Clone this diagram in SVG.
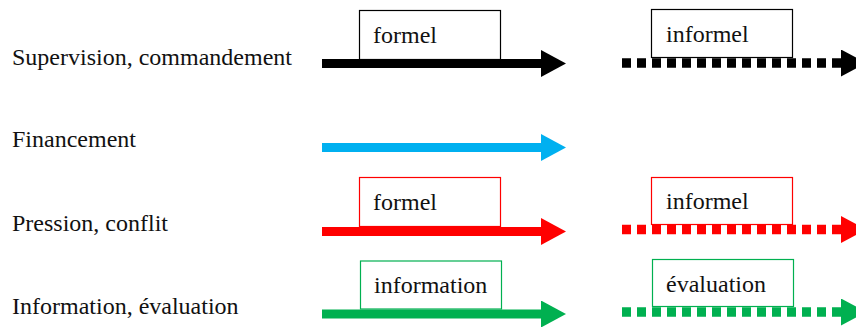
<svg xmlns="http://www.w3.org/2000/svg" width="856" height="327" viewBox="0 0 856 327">
  <defs>
    <style>
      .lbl { font-family: "Liberation Serif", "Times New Roman", serif; font-size: 24px; fill: #111; }
      .box { fill: #fff; stroke-width: 1.2; }
      .line { fill: none; stroke-width: 9; }
      .dots { fill: none; stroke-width: 9.5; stroke-dasharray: 9 6; }
      .k { stroke: #000; }
      .b { stroke: #00B0F0; }
      .r { stroke: #FF0000; }
      .g { stroke: #00B050; }
    </style>
    <marker id="head-k" viewBox="0 0 25 27" refX="0" refY="13.5" markerWidth="25" markerHeight="27" markerUnits="userSpaceOnUse" orient="auto">
      <path d="M0,0 L25,13.5 L0,27 Z" fill="#000"/>
    </marker>
    <marker id="head-b" viewBox="0 0 25 27" refX="0" refY="13.5" markerWidth="25" markerHeight="27" markerUnits="userSpaceOnUse" orient="auto">
      <path d="M0,0 L25,13.5 L0,27 Z" fill="#00B0F0"/>
    </marker>
    <marker id="head-r" viewBox="0 0 25 27" refX="0" refY="13.5" markerWidth="25" markerHeight="27" markerUnits="userSpaceOnUse" orient="auto">
      <path d="M0,0 L25,13.5 L0,27 Z" fill="#FF0000"/>
    </marker>
    <marker id="head-g" viewBox="0 0 25 27" refX="0" refY="13.5" markerWidth="25" markerHeight="27" markerUnits="userSpaceOnUse" orient="auto">
      <path d="M0,0 L25,13.5 L0,27 Z" fill="#00B050"/>
    </marker>
  </defs>

  <rect width="856" height="327" fill="#fff"/>

  <!-- row labels -->
  <g id="label-supervision"><text class="lbl" x="12" y="65">Supervision, commandement</text></g>
  <g id="label-financement"><text class="lbl" x="12" y="147">Financement</text></g>
  <g id="label-pression"><text class="lbl" x="12" y="231">Pression, conflit</text></g>
  <g id="label-information"><text class="lbl" x="12" y="314">Information, évaluation</text></g>

  <!-- connectors -->
  <g id="connectors">
    <line class="line k" x1="322" y1="63.5" x2="541" y2="63.5" marker-end="url(#head-k)"/>
    <line class="dots k" x1="622" y1="63" x2="841" y2="63" marker-end="url(#head-k)"/>
    <line class="line b" x1="322" y1="147.5" x2="541" y2="147.5" marker-end="url(#head-b)"/>
    <line class="line r" x1="322" y1="231.5" x2="541" y2="231.5" marker-end="url(#head-r)"/>
    <line class="dots r" x1="622" y1="229.5" x2="841" y2="229.5" marker-end="url(#head-r)"/>
    <line class="line g" x1="322" y1="314" x2="541" y2="314" marker-end="url(#head-g)"/>
    <line class="dots g" x1="622" y1="312" x2="841" y2="312" marker-end="url(#head-g)"/>
  </g>

  <!-- tag boxes -->
  <g id="tag-formel-k">
    <rect class="box k" x="359.5" y="10.5" width="141" height="49"/>
    <text class="lbl" x="373" y="43">formel</text>
  </g>
  <g id="tag-informel-k">
    <rect class="box k" x="651.5" y="9.5" width="141" height="48"/>
    <text class="lbl" x="666" y="42">informel</text>
  </g>
  <g id="tag-formel-r">
    <rect class="box r" x="359.5" y="177.5" width="141" height="49"/>
    <text class="lbl" x="373" y="210">formel</text>
  </g>
  <g id="tag-informel-r">
    <rect class="box r" x="651.5" y="177.5" width="141" height="47"/>
    <text class="lbl" x="666" y="209">informel</text>
  </g>
  <g id="tag-information-g">
    <rect class="box g" x="360.5" y="261" width="141" height="48"/>
    <text class="lbl" x="374" y="293">information</text>
  </g>
  <g id="tag-evaluation-g">
    <rect class="box g" x="652.5" y="259.5" width="141" height="47"/>
    <text class="lbl" x="666" y="292">évaluation</text>
  </g>
</svg>
